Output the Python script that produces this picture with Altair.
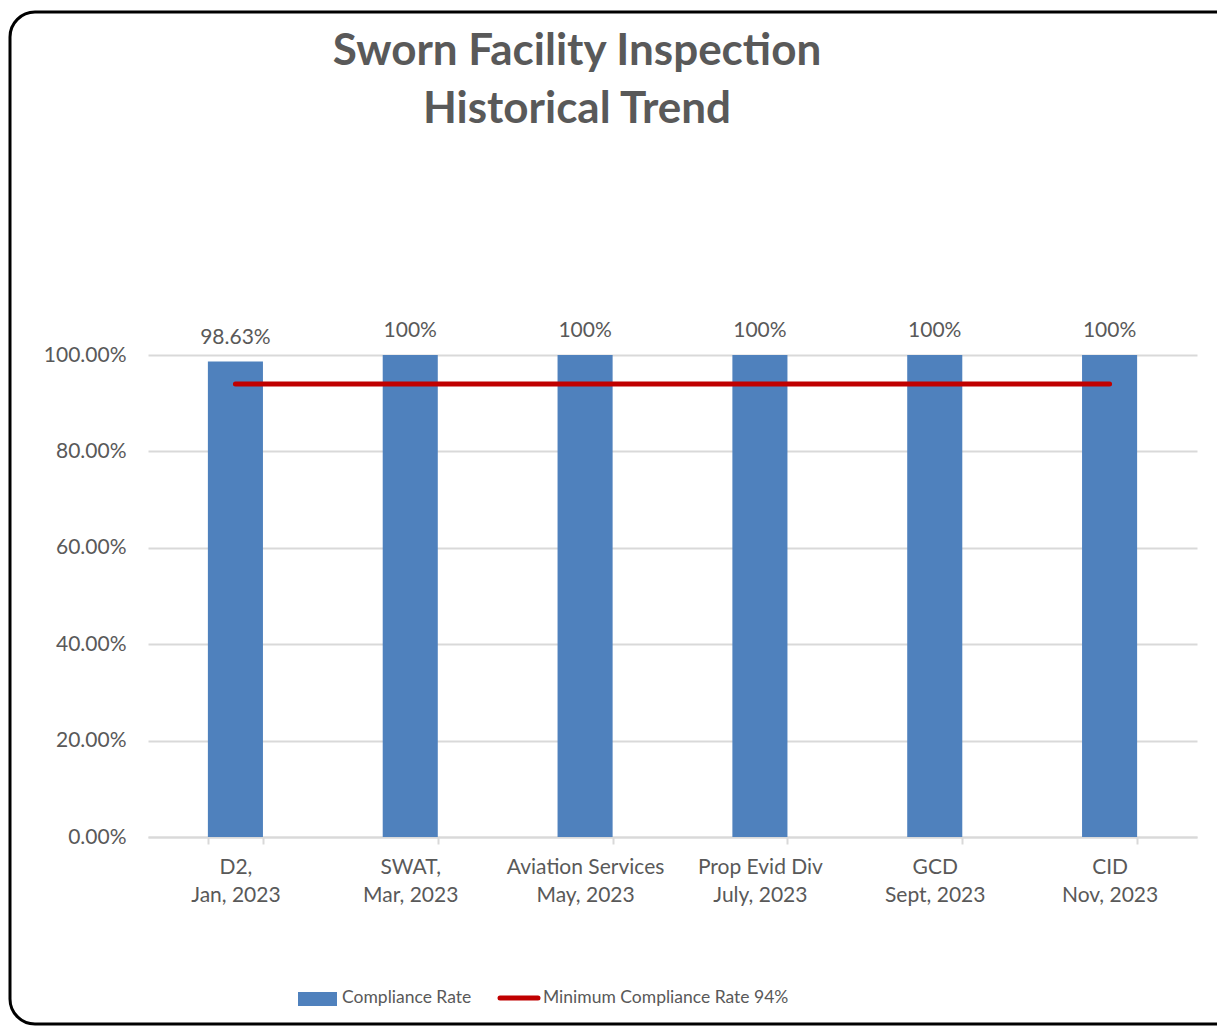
import altair as alt
import pandas as pd

# ---- data ----
units = ["D2,", "SWAT,", "Aviation Services", "Prop Evid Div", "GCD", "CID"]
periods = ["Jan, 2023", "Mar, 2023", "May, 2023", "July, 2023", "Sept, 2023", "Nov, 2023"]
rates = [0.9863, 1.0, 1.0, 1.0, 1.0, 1.0]
rate_labels = ["98.63%", "100%", "100%", "100%", "100%", "100%"]
minimum_rate = 0.94
series_names = ["Compliance Rate", "Minimum Compliance Rate 94%"]
title_lines = ["Sworn Facility Inspection", "Historical Trend"]
y_ticks = [0.0, 0.2, 0.4, 0.6, 0.8, 1.0]

# ---- styling ----
W, H = 1049, 482
FONT = "Lato"
TXT = "#595959"
BLUE = "#4F81BD"
RED = "#C00000"
GRID = "#D9D9D9"
AX_FS = 21

cats = [u + "|" + p for u, p in zip(units, periods)]
df = pd.DataFrame({"cat": cats, "rate": rates, "label": rate_labels})
df_min = pd.DataFrame({"cat": cats, "rate": [minimum_rate] * len(cats)})
one = pd.DataFrame({"k": [0]})

x_scale = alt.Scale(domain=cats, paddingInner=0.685, paddingOuter=0.3425)
y_scale = alt.Scale(domain=[0, 1], nice=False)

x_enc = alt.X(
    "cat:N",
    scale=x_scale,
    sort=cats,
    title=None,
    axis=alt.Axis(
        labelExpr="split(datum.label, '|')",
        labelFont=FONT,
        labelFontSize=AX_FS,
        labelColor=TXT,
        labelAngle=0,
        labelPadding=12,
        labelLineHeight=28,
        labelBaseline="top",
        domainColor=GRID,
        domainWidth=2,
        tickColor=GRID,
        tickWidth=2,
        tickSize=7,
        tickBand="extent",
        grid=False,
    ),
)
y_enc = alt.Y(
    "rate:Q",
    scale=y_scale,
    title=None,
    axis=alt.Axis(
        values=y_ticks,
        format=".2%",
        labelFont=FONT,
        labelFontSize=AX_FS,
        labelColor=TXT,
        labelPadding=22,
        ticks=False,
        domain=False,
        grid=True,
        gridColor=GRID,
        gridWidth=2,
    ),
)

bars = alt.Chart(df).mark_bar(color=BLUE).encode(x=x_enc, y=y_enc)

labels = alt.Chart(df).mark_text(
    font=FONT, fontSize=AX_FS, color=TXT, baseline="alphabetic", dy=-18
).encode(x=alt.X("cat:N", scale=x_scale, sort=cats), y=alt.Y("rate:Q", scale=y_scale), text="label:N")

min_line = alt.Chart(df_min).mark_line(color=RED, strokeWidth=5, strokeCap="round").encode(
    x=alt.X("cat:N", scale=x_scale, sort=cats), y=alt.Y("rate:Q", scale=y_scale)
)

# title
title1 = alt.Chart(one).mark_text(
    text=title_lines[0], font=FONT, fontSize=44, fontWeight="bold", color=TXT, align="center", baseline="alphabetic"
).encode(x=alt.value(429), y=alt.value(-290))
title2 = alt.Chart(one).mark_text(
    text=title_lines[1], font=FONT, fontSize=44, fontWeight="bold", color=TXT, align="center", baseline="alphabetic"
).encode(x=alt.value(429), y=alt.value(-232))

# custom legend
LEG_FS = 17.5
leg_rect = alt.Chart(one).mark_rect(color=BLUE).encode(
    x=alt.value(150), x2=alt.value(189), y=alt.value(637), y2=alt.value(651)
)
leg_text1 = alt.Chart(one).mark_text(
    text=series_names[0], font=FONT, fontSize=LEG_FS, color=TXT, align="left", baseline="middle"
).encode(x=alt.value(194), y=alt.value(643))
leg_line = alt.Chart(one).mark_rule(color=RED, strokeWidth=5, strokeCap="round").encode(
    x=alt.value(352), x2=alt.value(390), y=alt.value(643)
)
leg_text2 = alt.Chart(one).mark_text(
    text=series_names[1], font=FONT, fontSize=LEG_FS, color=TXT, align="left", baseline="middle"
).encode(x=alt.value(395), y=alt.value(643))

# outer rounded border
border = alt.Chart(one).mark_rect(
    fillOpacity=0, stroke="black", strokeWidth=3, cornerRadius=25
).encode(x=alt.value(-138), x2=alt.value(1110), y=alt.value(-343), y2=alt.value(669))

chart = alt.layer(
    border, bars, min_line, labels, title1, title2, leg_rect, leg_text1, leg_line, leg_text2
).properties(
    width=W,
    height=H,
    autosize=alt.AutoSizeParams(type="none"),
    padding={"left": 140, "top": 347, "right": 20, "bottom": 189},
    background="white",
).configure_view(stroke=None)

chart.save("out.html", embed_options={"renderer": "svg", "actions": False})
